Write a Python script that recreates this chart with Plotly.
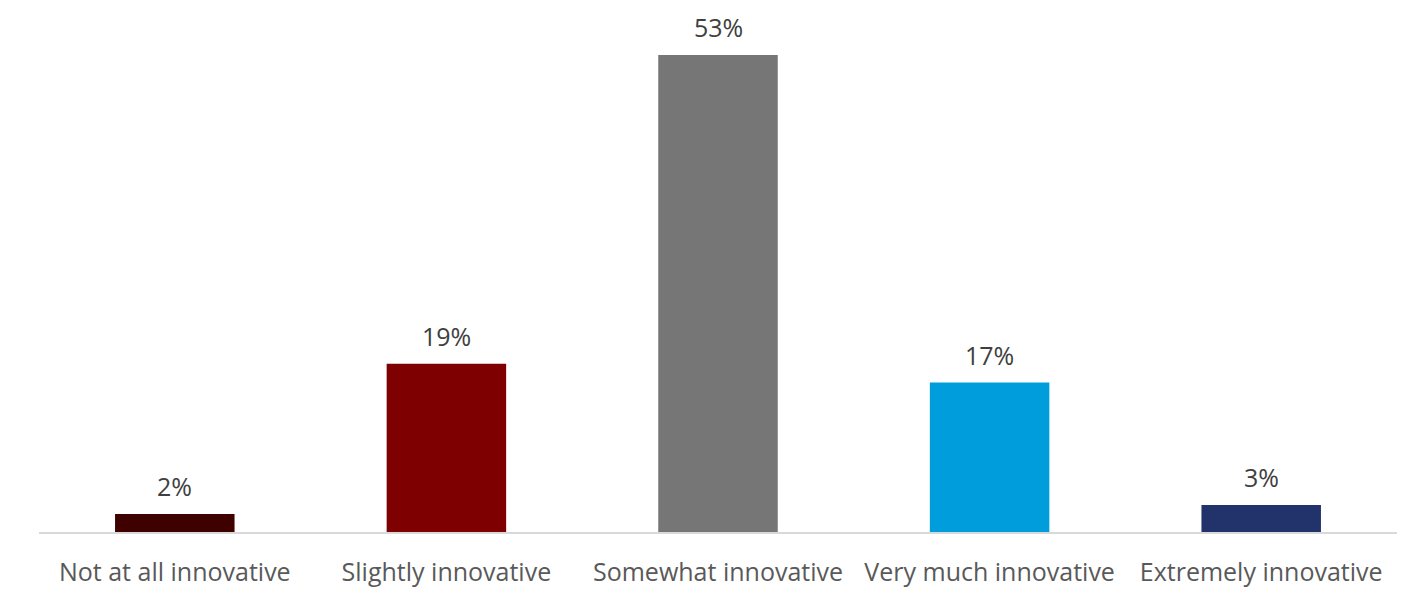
import plotly.graph_objects as go

categories = ["Not at all innovative", "Slightly innovative", "Somewhat innovative",
              "Very much innovative", "Extremely innovative"]
values = [2.0, 18.7, 53.0, 16.6, 3.0]
labels = ["2%", "19%", "53%", "17%", "3%"]
colors = ["#3F0000", "#7F0000", "#767676", "#009DDC", "#22336B"]

fig = go.Figure(go.Bar(x=categories, y=values, marker=dict(color=colors, line=dict(width=0)),
                       hoverinfo="skip"))

for c, v, t in zip(categories, values, labels):
    fig.add_annotation(x=c, y=v, text=t, showarrow=False, yanchor="bottom", yshift=9,
                       font=dict(family="Open Sans", size=25, color="#404040"))

fig.update_layout(
    width=1427, height=599,
    margin=dict(l=39, r=30, t=37, b=67),
    paper_bgcolor="white", plot_bgcolor="white",
    bargap=0.56, showlegend=False,
    font=dict(family="Open Sans", size=25, color="#595959"),
)
fig.update_xaxes(showline=True, linecolor="#D9D9D9", linewidth=2, ticks="",
                 ticklabelstandoff=17, tickfont=dict(size=25, color="#595959"),
                 showgrid=False, zeroline=False)
fig.update_yaxes(range=[0, 55], visible=False, showgrid=False, zeroline=False)

fig.write_html("out.html")
